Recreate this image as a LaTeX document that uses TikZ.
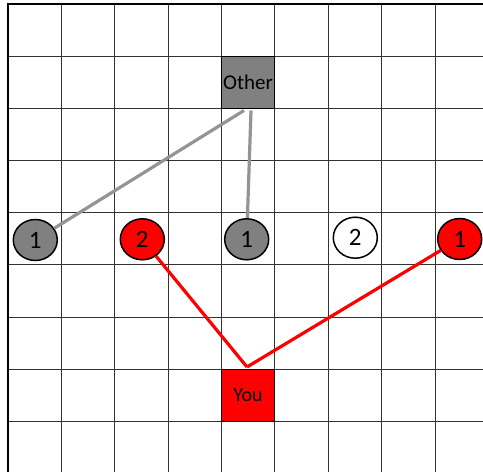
\documentclass[tikz,border=0pt]{standalone}
\usepackage{fontspec}
\setmainfont{Carlito}
\usetikzlibrary{shapes.geometric}
\begin{document}
\begin{tikzpicture}[x=1pt,y=-1pt,
 gridline/.style={draw=black!80, line width=1pt},
 border/.style={draw=black, line width=2pt},
 sq/.style={draw=black, line width=1.6pt, minimum width=53pt, minimum height=52pt, inner sep=0pt, anchor=center},
 disc/.style={ellipse, draw=black, line width=1.5pt, minimum width=44pt, minimum height=41pt, inner sep=0pt, font=\fontsize{25}{25}\selectfont},
 grayline/.style={draw=black!42, line width=3.2pt},
 redline/.style={draw=red, line width=3.2pt}]
\useasboundingbox (0,0) rectangle (483,472);
\fill[white] (0,0) rectangle (483,472);
\foreach \x in {61.5,114.5,168.5,221.5,274.5,328.5,381.5,435.5} \draw[gridline] (\x,4) -- (\x,472);
\foreach \y in {56.5,108.5,160.5,212.5,264.5,317.5,369.5,421.5} \draw[gridline] (8,\y) -- (483,\y);
\draw[border] (8,472) -- (8,4) -- (483,4);
% squares
\node[sq, fill=black!50, font=\fontsize{21}{21}\selectfont] (other) at (248,82.5) {Other};
\node[sq, fill=red, font=\fontsize{20}{20}\selectfont] (you) at (248,395.5) {You};
% discs
\node[disc, fill=black!50] (c1) at (35.3,240) {1};
\node[disc, fill=red] (c2) at (142.3,239.3) {2};
\node[disc, fill=black!50] (c3) at (246.7,239.3) {1};
\node[disc, fill=white] (c4) at (355.3,237.7) {2};
\node[disc, fill=red] (c5) at (459.7,239) {1};
% connector ends
\coordinate (o1) at (244,110.5);
\coordinate (o2) at (251,110.5);
\coordinate (y1) at (247,367);
\draw[grayline] (o1) -- (c1);
\draw[grayline] (o2) -- (c3);
\draw[redline] (y1) -- (c2);
\draw[redline] (y1) -- (c5);
\end{tikzpicture}
\end{document}
